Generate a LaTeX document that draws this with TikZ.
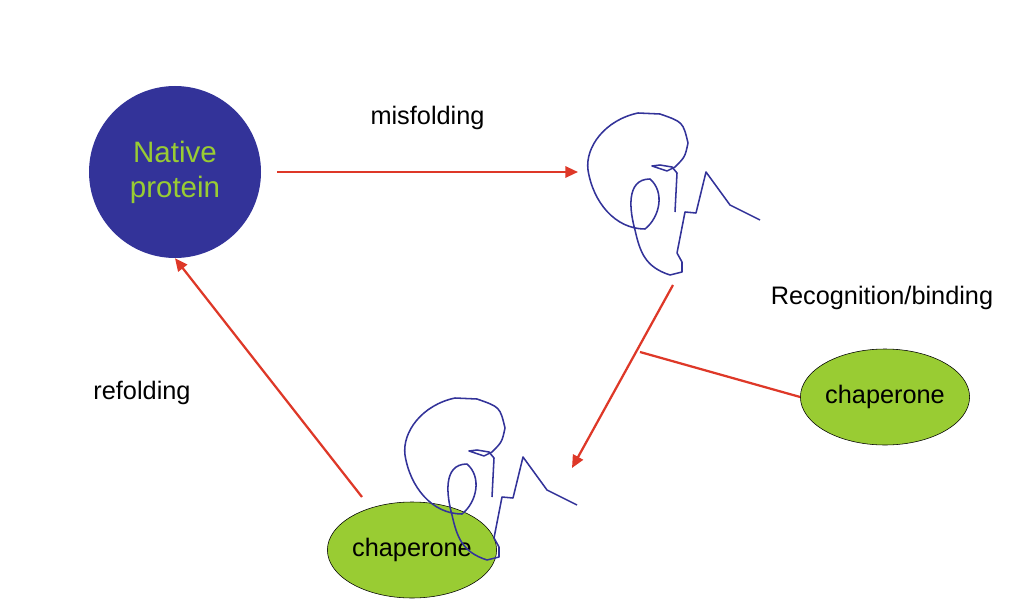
\documentclass[tikz,border=0pt]{standalone}
\usepackage{fontspec}
\setmainfont{Liberation Sans}
\usetikzlibrary{arrows.meta,shapes.geometric}
\definecolor{natblue}{RGB}{51,51,153}
\definecolor{chapgreen}{RGB}{153,204,51}
\definecolor{arrowred}{RGB}{222,56,40}
\begin{document}
\begin{tikzpicture}[x=0.025cm,y=-0.025cm,
		link/.style={draw=arrowred, line width=1.6pt},
		arrow/.style={link, -{Triangle[length=9pt,width=8pt]}},
		chaperone/.style={ellipse, draw=black, fill=chapgreen, inner sep=0pt,
			minimum width=164*0.025cm, minimum height=96*0.025cm},
		label/.style={font=\fontsize{18}{21}\selectfont},
		every node/.append style={font=\fontsize{18}{21}\selectfont},
		squiggle/.pic={
			\draw[natblue, line width=1.1pt, line join=round]
			(0,0) -- (2,-39) -- (-3,-45) -- (-15,-47) -- (-23,-46) -- (-8,-41) -- (0,-45)
			.. controls (10,-55) .. (13,-69) .. controls (8,-90) .. (-15,-98)
			-- (-37,-99) .. controls (-70,-92) and (-90,-65) .. (-87,-42)
			.. controls (-82,-10) and (-60,17) .. (-30,17)
			.. controls (-15,5) and (-10,-20) .. (-25,-33)
			.. controls (-50,-33) and (-45,0) .. (-40,18)
			.. controls (-35,40) and (-30,55) .. (-5,63) -- (7,60) -- (7,50) -- (2,41)
			-- (10,0) -- (21,1) -- (31,-40) -- (55,-7) -- (85,8);
		}
		]
		% Bounding box
		\useasboundingbox (0,0) rectangle (1030,610);
		
		% Native protein
		\node[circle, fill=natblue, minimum size=172*0.025cm, inner sep=0pt, align=center,
			text=chapgreen, font=\fontsize{21}{25}\selectfont] (native) at (175,172) {Native\\protein};
		
		% Misfolded protein
		\pic at (675,212) {squiggle};
		\coordinate (misstart) at (277,172);
		\coordinate (misend) at (578,172);
		\coordinate (mistop) at (673,285);
		\coordinate (misbot) at (572,468);
		\coordinate (bindpt) at (640,352);
		
		% Chaperones
		\node[chaperone] (chapfree) at (885,397) {chaperone};
		\node[chaperone] (chapbound) at (412,550) {chaperone};
		\pic at (492,497) {squiggle};
		\coordinate (refstart) at (362,497);
		
		% Arrows
		\draw[arrow] (misstart) -- (misend) node[midway, above=26pt, label] {misfolding};
		\draw[arrow] (mistop) -- (misbot);
		\draw[link] (bindpt) -- (chapfree.west);
		\draw[arrow] (refstart) -- (native.south);
		
		% Labels
		\node[label] (recog) at (882,298) {Recognition/binding};
		\node[label] (refold) at (142,393) {refolding};
		
	\end{tikzpicture}
\end{document}
